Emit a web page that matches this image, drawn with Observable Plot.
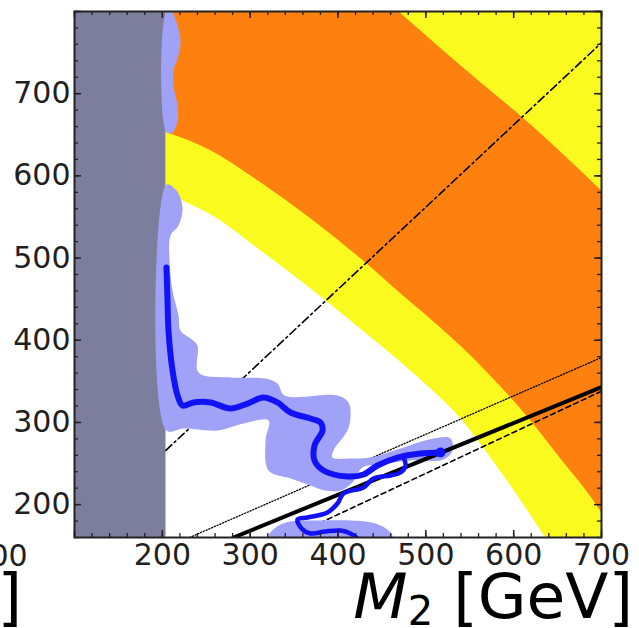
<!DOCTYPE html>
<html><head><meta charset="utf-8">
<script src="https://cdn.jsdelivr.net/npm/d3@7"></script>
<script src="https://cdn.jsdelivr.net/npm/@observablehq/plot@0.6"></script>
<style>
body{margin:0;background:#fff;}
#chart{position:relative;width:639px;height:628px;overflow:hidden;}
svg{display:block;}
</style></head><body><div id="chart"></div>
<script>
// ---- axes ----
const xDomain = [100, 700];
const yDomain = [160, 800];
const xTickLabels = [200, 300, 400, 500, 600, 700];
const yTickLabels = [200, 300, 400, 500, 600, 700];
const xMajor = [100, 200, 300, 400, 500, 600, 700];
const yMajor = [200, 300, 400, 500, 600, 700, 800];

// ---- excluded region (M2 < ~204) ----
const grayM2 = [100, 204];

// ---- contour boundaries (M2, mu) ----
const upperEdgeM2 = [469, 517, 562, 610, 700];
const upperEdgeMu = [800, 755, 714, 671, 582];
const midEdgeM2 = [204.7, 254.8, 311.8, 368.7, 425.6, 471.2, 520.1, 550.9, 585, 619.2, 653.3, 693.2, 700];
const midEdgeMu = [652.8, 630.9, 591.9, 548.1, 499.5, 456.9, 411.9, 381.5, 343.7, 302.4, 256.1, 201.4, 190.4];
const lowEdgeM2 = [204.7, 220.7, 254.8, 311.8, 368.7, 427.9, 484.8, 539.5, 588.4, 636.3];
const lowEdgeMu = [582.2, 571.3, 553, 509.2, 463, 411.9, 360.8, 304.8, 235.5, 160];

// ---- light blue uncertainty band outlines ----
const bandTopM2 = [204.7, 210.4, 217.3, 220.7, 218.4, 212.7, 212.7, 217.3, 217.3, 211.6, 204.7];
const bandTopMu = [800, 800, 783, 764.7, 746.5, 728.2, 710, 685.6, 667.4, 652.8, 652.8];
const bandMainM2 = [204.7, 216.1, 223, 218.4, 209.3, 208.2, 211.6, 218.4, 220.7, 232.1, 240, 241.2, 277.6, 317.5, 331.1, 339.1, 399.4, 412, 414.2, 410.8, 394.9, 393.7, 414.2, 437, 471.2, 508.7, 528.1, 530.4, 520.1, 482.6, 448.4, 427.9, 416.5, 402.9, 385.8, 368.7, 345.9, 320.9, 317.5, 320.9, 292.4, 262.8, 224.1, 204.7];
const bandMainMu = [589.5, 582.2, 561.5, 539.6, 527.5, 497.1, 460.5, 430.1, 411.9, 402.1, 393.6, 360.8, 354.7, 353.5, 347.4, 332.8, 332.8, 324.3, 306, 290.2, 265.9, 257.3, 256.1, 257.3, 268.3, 280.5, 280.5, 265.9, 254.9, 253.7, 248.8, 245.2, 226.9, 217.2, 217.2, 223.3, 231.8, 241.5, 278.1, 302.4, 298.7, 290.2, 292.6, 290.2];
const bandLowM2 = [320.9, 328.9, 345.9, 380.1, 414.2, 442.7, 457.5, 462.1];
const bandLowMu = [160, 172.2, 179.5, 180.7, 180.7, 177.1, 168.5, 160];

// ---- dark blue central contour ----
const blueMainM2 = [204.7, 205.9, 207, 211.6, 217.3, 223, 235.5, 254.8, 277.6, 297, 315.2, 331.1, 345.9, 368.7, 380.1, 382.4, 373.3, 373.3, 383.5, 410.8, 429, 445, 467.8, 494, 516.7];
const blueMainMu = [488.5, 448.4, 411.9, 363.2, 332.8, 320.6, 324.3, 324.3, 317, 323, 330.4, 324.3, 312.1, 304.8, 300, 290.2, 272, 253.7, 241.5, 234.2, 236.7, 247.6, 257.3, 262.2, 263.4];
const blueBranchM2 = [474.6, 476.9, 471.2, 459.8, 440.4, 429, 406.3, 399.4, 388, 365.3, 353.9, 358.5, 368.7, 385.8, 402.9, 414.2, 422.2];
const blueBranchMu = [257.3, 247.6, 239.1, 235.5, 231.8, 220.9, 213.6, 201.4, 190.5, 184.4, 181.9, 171, 164.9, 167.3, 168.5, 164.9, 158.8];

// ---- reference lines ----
const solidLineM2 = [281, 700];
const solidLineMu = [160, 343];
const dashedLineM2 = [344, 700];
const dashedLineMu = [160, 338];
const dottedLineM2 = [231, 700];
const dottedLineMu = [160, 379];
const dashDotLineM2 = [204, 700];
const dashDotLineMu = [266, 762];

const zip = (xs, ys) => xs.map((x, i) => ({x, y: ys[i]}));
const C = {gray: "#7d7d9d", orange: "#fe800f", yellow: "#fbfa1e", light: "#a0a2f7", blue: "#1212f8", ink: "#231f20"};

const xMinor = d3.range(xDomain[0], xDomain[1] + 1, 20);
const yMinor = d3.range(yDomain[0], yDomain[1] + 1, 20);
const W = 639, H = 628, mL = 74, mR = 38, mT = 11, mB = 91;
const fw = W - mL - mR, fh = H - mT - mB;

const chart = Plot.plot({
  width: W, height: H,
  marginLeft: mL, marginRight: mR, marginTop: mT, marginBottom: mB,
  x: {domain: xDomain},
  y: {domain: yDomain},
  style: {fontFamily: "DejaVu Sans", fontSize: "30px", color: C.ink, background: "white", overflow: "hidden"},
  marks: [
    Plot.rectX([0], {x1: xDomain[0], x2: xDomain[1], y1: yDomain[0], y2: yDomain[1], fill: C.yellow}),
    Plot.areaY(zip(lowEdgeM2, lowEdgeMu), {x: "x", y1: yDomain[0], y2: "y", fill: "white", curve: "monotone-x", clip: true}),
    Plot.areaY(zip(midEdgeM2, midEdgeMu), {x: "x", y1: "y", y2: yDomain[1], fill: C.orange, curve: "monotone-x", clip: true}),
    Plot.areaY(zip(upperEdgeM2, upperEdgeMu), {x: "x", y1: "y", y2: yDomain[1], fill: C.yellow, curve: "monotone-x", clip: true}),
    Plot.rectX([0], {x1: grayM2[0], x2: grayM2[1], y1: yDomain[0], y2: yDomain[1], fill: C.gray}),
    Plot.line(zip(dottedLineM2, dottedLineMu), {x: "x", y: "y", stroke: "#000", strokeWidth: 1.3, strokeDasharray: "1.2,1.8", clip: true}),
    Plot.line(zip(dashedLineM2, dashedLineMu), {x: "x", y: "y", stroke: "#000", strokeWidth: 1.6, strokeDasharray: "5,3.5", clip: true}),
    Plot.line(zip(dashDotLineM2, dashDotLineMu), {x: "x", y: "y", stroke: "#000", strokeWidth: 1.6, strokeDasharray: "8,3.5,2,3.5", clip: true}),
    Plot.line(zip(bandTopM2, bandTopMu), {x: "x", y: "y", fill: C.light, stroke: "none", curve: "catmull-rom-closed", clip: true}),
    Plot.line(zip(bandMainM2, bandMainMu), {x: "x", y: "y", fill: C.light, stroke: "none", curve: "catmull-rom-closed", clip: true}),
    Plot.line(zip(bandLowM2, bandLowMu), {x: "x", y: "y", fill: C.light, stroke: "none", curve: "catmull-rom-closed", clip: true}),
    Plot.line(zip(solidLineM2, solidLineMu), {x: "x", y: "y", stroke: "#000", strokeWidth: 4, clip: true}),
    Plot.line(zip(blueBranchM2, blueBranchMu), {x: "x", y: "y", stroke: C.blue, strokeWidth: 4.5, curve: "catmull-rom", strokeLinecap: "round", clip: true}),
    Plot.line(zip(blueMainM2, blueMainMu), {x: "x", y: "y", stroke: C.blue, strokeWidth: 6, curve: "catmull-rom", strokeLinecap: "round", clip: true}),
    Plot.dot([zip(blueMainM2, blueMainMu).at(-1)], {x: "x", y: "y", r: 5, fill: C.blue}),
    // inward ticks on all four sides
    Plot.tickX(xMinor, {x: d => d, insetTop: fh - 4, stroke: C.ink, strokeWidth: 1.3}),
    Plot.tickX(xMajor, {x: d => d, insetTop: fh - 7, stroke: C.ink, strokeWidth: 1.5}),
    Plot.tickX(xMinor, {x: d => d, insetBottom: fh - 4, stroke: C.ink, strokeWidth: 1.3}),
    Plot.tickX(xMajor, {x: d => d, insetBottom: fh - 7, stroke: C.ink, strokeWidth: 1.5}),
    Plot.tickY(yMinor, {y: d => d, insetRight: fw - 4, stroke: C.ink, strokeWidth: 1.3}),
    Plot.tickY(yMajor, {y: d => d, insetRight: fw - 7, stroke: C.ink, strokeWidth: 1.5}),
    Plot.tickY(yMinor, {y: d => d, insetLeft: fw - 4, stroke: C.ink, strokeWidth: 1.3}),
    Plot.tickY(yMajor, {y: d => d, insetLeft: fw - 7, stroke: C.ink, strokeWidth: 1.5}),
    Plot.frame({stroke: "#222", strokeWidth: 2}),
    Plot.axisX(xTickLabels, {anchor: "bottom", tickSize: 0, tickPadding: 6, label: null, fontSize: 30}),
    Plot.axisY(yTickLabels, {anchor: "left", tickSize: 0, tickPadding: 4, label: null, fontSize: 30})
  ]
});
document.getElementById("chart").appendChild(chart);

// axis titles (x title of this panel, and the clipped pieces of the neighbouring panel)
const svg = d3.select(chart);
const xt = svg.append("text").attr("x", 633).attr("y", 618).attr("text-anchor", "end")
  .attr("font-family", "DejaVu Sans").attr("font-size", 63).attr("fill", "#000");
xt.append("tspan").attr("font-style", "italic").text("M");
xt.append("tspan").attr("font-size", 40).attr("dy", 7).text("2");
xt.append("tspan").attr("dy", -7).text(" [GeV]");
svg.append("text").attr("x", 22).attr("y", 618).attr("text-anchor", "end")
  .attr("font-family", "DejaVu Sans").attr("font-size", 63).attr("fill", "#000").text("μ [GeV]");
svg.append("text").attr("x", -1).attr("y", 566).attr("text-anchor", "middle")
  .attr("font-family", "DejaVu Sans").attr("font-size", 30).attr("fill", C.ink).text("700");
</script></body></html>
